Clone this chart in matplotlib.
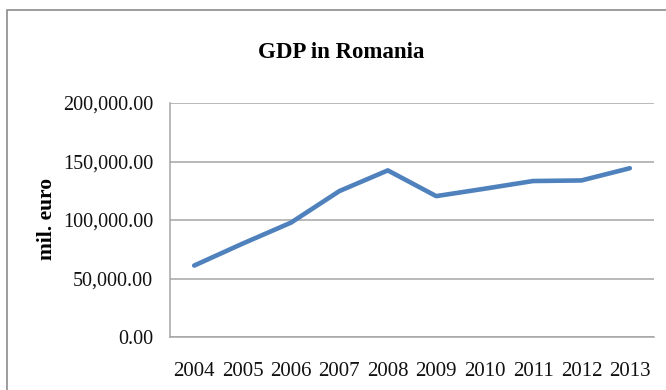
import matplotlib.pyplot as plt
from matplotlib.patches import Rectangle
from matplotlib.ticker import FuncFormatter

years = ['2004', '2005', '2006', '2007', '2008', '2009', '2010', '2011', '2012', '2013']
gdp = [61064, 79802, 97751, 124729, 142396, 120409, 126746, 133306, 133806, 144253]
y_ticks = [0, 50000, 100000, 150000, 200000]

plt.rcParams['font.family'] = 'Liberation Serif'

fig = plt.figure(figsize=(6.66, 3.9), dpi=100)
ax = fig.add_axes([170 / 666, 1 - 337 / 390, 484 / 666, 234 / 390])

# chart frame (open on the right and bottom edges)
fig.patches.append(Rectangle((7 / 666, -0.1), 1.1, 1.1 - 10.5 / 390,
                             transform=fig.transFigure, fill=False,
                             edgecolor='#8c8c8c', linewidth=1.2))

x = range(len(years))
ax.plot(x, gdp, color='#4f81bd', linewidth=3.3, solid_capstyle='round',
        solid_joinstyle='round')

ax.set_xlim(-0.5, len(years) - 0.5)
ax.set_ylim(0, 200000)
ax.set_yticks(y_ticks)
ax.yaxis.set_major_formatter(FuncFormatter(lambda v, p: f'{v:,.2f}'))
ax.set_xticks(list(x))
ax.set_xticklabels(years)

ax.grid(axis='y', color='#a6a6a6', linewidth=1.1)
ax.set_axisbelow(True)
for side in ['top', 'right']:
    ax.spines[side].set_visible(False)
for side in ['left', 'bottom']:
    ax.spines[side].set_color('#a6a6a6')
    ax.spines[side].set_linewidth(1.1)

ax.tick_params(axis='y', length=0, pad=12, labelsize=14.5, colors='#111111')
ax.tick_params(axis='x', length=0, pad=18, labelsize=15, colors='#111111')

ax.set_ylabel('mil. euro', fontsize=15.5, fontweight='bold', va='center')
ax.yaxis.set_label_coords((47 - 170) / 484, (337 - 219) / 234)

fig.text(341 / 666, 1 - 53 / 390, 'GDP in Romania', ha='center', va='center',
         fontsize=16.5, fontweight='bold')

fig.savefig('out.png', dpi=100)
